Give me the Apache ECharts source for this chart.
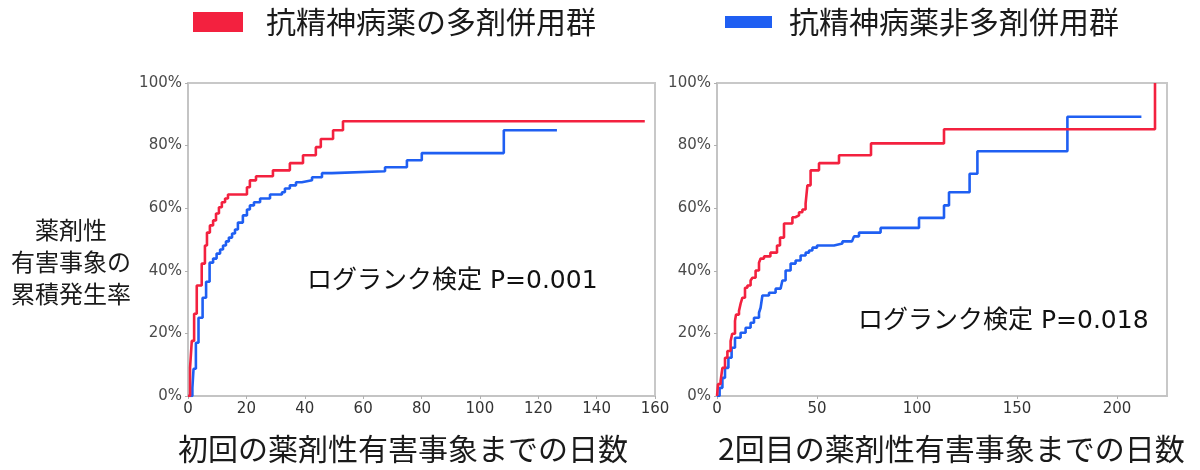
<!DOCTYPE html>
<html>
<head>
<meta charset="utf-8">
<script src="https://cdn.jsdelivr.net/npm/echarts@6/dist/echarts.min.js"></script>
<style>html,body{margin:0;padding:0;background:#fff;}#c{width:1200px;height:470px;}</style>
</head>
<body>
<div id="c"></div>
<script>
// ---- data ----
const seriesNames = ['抗精神病薬の多剤併用群', '抗精神病薬非多剤併用群'];
const yTickLabels = ['0%', '20%', '40%', '60%', '80%', '100%'];
const leftXTicks = [0, 20, 40, 60, 80, 100, 120, 140, 160];
const rightXTicks = [0, 50, 100, 150, 200];
const leftXTitle = '初回の薬剤性有害事象までの日数';
const rightXTitle = '2回目の薬剤性有害事象までの日数';
const yTitle = '薬剤性\n有害事象の\n累積発生率';
const leftNote = 'ログランク検定 P=0.001';
const rightNote = 'ログランク検定 P=0.018';

// [day, cumulative %] (step changes)
const leftRed = [[0,0],[0.7,9.0],[1.3,17.6],[2.1,26.3],[3.0,35.3],[4.7,42.3],[5.8,48.1],[6.5,52.2],[7.5,54.5],[8.6,56.1],[9.6,58.3],[10.6,60.3],[11.6,61.9],[12.7,63.1],[13.7,64.4],[20.2,66.7],[21.2,68.9],[23.3,70.2],[29.1,72.1],[34.9,74.4],[39.4,76.9],[43.8,79.5],[45.5,82.1],[49.7,84.9],[53.1,87.8],[156.5,87.8]];
const leftBlue = [[0,0],[1.5,2.6],[1.9,8.7],[2.7,17.0],[3.6,25.0],[5.0,31.4],[6.2,36.5],[7.4,42.6],[8.6,43.9],[9.8,45.5],[11.0,46.8],[12.0,48.1],[13.0,49.4],[14.0,50.6],[15.1,51.9],[16.1,53.2],[17.1,55.4],[18.8,57.7],[20.2,59.6],[21.2,60.9],[22.6,61.9],[24.7,63.1],[28.1,64.4],[32.2,65.1],[33.2,66.3],[34.9,67.3],[37.0,68.3],[39.0,68.9],[42.5,69.9],[45.9,71.2],[49.3,71.8],[67.5,73.1],[75.0,75.3],[80.1,77.6],[108.2,84.9],[126.4,84.9]];
const rightRed = [[0,0],[0.5,3.8],[1.8,4.8],[2.7,9.0],[4.0,12.2],[5.2,14.4],[6.8,17.6],[7.6,19.9],[9.0,24.0],[9.5,26.0],[11.0,27.2],[11.8,29.5],[12.7,31.4],[14.0,34.6],[15.2,35.3],[16.8,36.9],[17.7,37.8],[19.3,40.1],[21.0,42.6],[21.8,43.9],[23.5,44.6],[26.7,45.8],[30.0,48.1],[31.5,50.6],[33.5,55.1],[37.7,57.1],[39.2,57.7],[41.0,58.7],[42.7,59.6],[44.3,61.5],[45.2,67.3],[46.8,72.1],[51.0,74.4],[61.0,76.9],[77.0,80.7],[113.5,85.2],[219.0,100]];
const rightBlue = [[0,0],[1.3,2.6],[2.7,5.8],[4.0,9.0],[5.7,12.2],[7.3,15.4],[9.0,18.6],[11.8,20.2],[14.3,21.8],[16.8,23.4],[18.5,25.0],[21.0,26.6],[21.8,28.2],[22.7,32.1],[26.0,33.0],[29.3,34.3],[31.8,34.6],[32.7,36.9],[34.3,40.1],[36.8,42.3],[39.3,43.3],[41.8,44.9],[44.3,45.8],[46.0,46.5],[47.7,47.4],[50.0,48.1],[58.5,48.7],[62.7,49.4],[67.5,50.0],[68.5,51.0],[71.0,52.2],[81.8,53.7],[101.0,56.9],[113.5,60.9],[116.0,65.1],[126.3,71.0],[130.2,78.2],[175.2,89.2],[212.2,89.2]];

// ---- chart ----
const RED = '#f3213f', BLUE = '#1f5ff2';
const CJK = "'Noto Sans CJK JP', sans-serif";
const MIX = "'DejaVu Sans', 'Noto Sans CJK JP', sans-serif";
const chart = echarts.init(document.getElementById('c'), null, {renderer: 'canvas'});

function yAxis(gi) {
  return {
    type: 'value', gridIndex: gi, min: 0, max: 100, interval: 20,
    axisLine: {show: true, lineStyle: {color: '#c4c4c4', width: 2}},
    axisTick: {show: true, length: 3, lineStyle: {color: '#b0b0b0'}},
    splitLine: {show: false},
    axisLabel: {formatter: v => yTickLabels[v / 20], fontFamily: 'DejaVu Sans', fontSize: 15, color: '#4a4a4a', margin: 6}
  };
}
function xAxis(gi, ticks, max) {
  const step = ticks[1] - ticks[0];
  return {
    type: 'value', gridIndex: gi, min: ticks[0], max: max, interval: step,
    axisLine: {show: true, lineStyle: {color: '#c4c4c4', width: 2}},
    axisTick: {show: true, length: 3, lineStyle: {color: '#b0b0b0'}},
    splitLine: {show: false},
    axisLabel: {showMaxLabel: ticks[ticks.length - 1] === max, fontFamily: 'DejaVu Sans', fontSize: 15, color: '#333', margin: 6}
  };
}
function line(name, data, color, gi) {
  return {
    name: name, type: 'line', step: 'end', data: data, xAxisIndex: gi, yAxisIndex: gi,
    showSymbol: false, symbol: 'none', color: color, itemStyle: {color: color},
    lineStyle: {color: color, width: 2.6}, animation: false, z: color === RED ? 3 : 2
  };
}

chart.setOption({
  backgroundColor: '#fff',
  animation: false,
  legend: [
    {data: [seriesNames[0]], left: 188, top: 2, icon: 'rect', itemWidth: 50, itemHeight: 20, selectedMode: false,
     textStyle: {fontFamily: CJK, fontSize: 30, color: '#1a1a1a', padding: [0, 0, 0, 18]}},
    {data: [seriesNames[1]], left: 720, top: 2, icon: 'rect', itemWidth: 47, itemHeight: 12, selectedMode: false,
     textStyle: {fontFamily: CJK, fontSize: 30, color: '#1a1a1a', padding: [0, 0, 0, 12]}}
  ],
  grid: [
    {left: 188, right: 545, top: 83, bottom: 74, show: true, borderColor: '#c8c8c8', borderWidth: 2, backgroundColor: '#fff'},
    {left: 717, right: 33, top: 83, bottom: 74, show: true, borderColor: '#c8c8c8', borderWidth: 2, backgroundColor: '#fff'}
  ],
  xAxis: [xAxis(0, leftXTicks, 160), xAxis(1, rightXTicks, 225)],
  yAxis: [yAxis(0), yAxis(1)],
  series: [
    line(seriesNames[1], leftBlue, BLUE, 0),
    line(seriesNames[0], leftRed, RED, 0),
    line(seriesNames[1], rightBlue, BLUE, 1),
    line(seriesNames[0], rightRed, RED, 1)
  ],
  graphic: [
    {type: 'text', left: 178, top: 434, style: {text: leftXTitle, font: "30px " + CJK, fill: '#1a1a1a'}},
    {type: 'text', left: 718, top: 434, style: {text: rightXTitle, font: "30px " + CJK, fill: '#1a1a1a'}},
    {type: 'text', x: 71, y: 262, style: {text: yTitle, font: "24px " + CJK, fill: '#1a1a1a', align: 'center', verticalAlign: 'middle', lineHeight: 32}},
    {type: 'text', left: 307, top: 269, style: {text: leftNote, font: "25px " + MIX, fill: '#111'}},
    {type: 'text', left: 858, top: 309, style: {text: rightNote, font: "25px " + MIX, fill: '#111'}}
  ]
});
</script>
</body>
</html>
